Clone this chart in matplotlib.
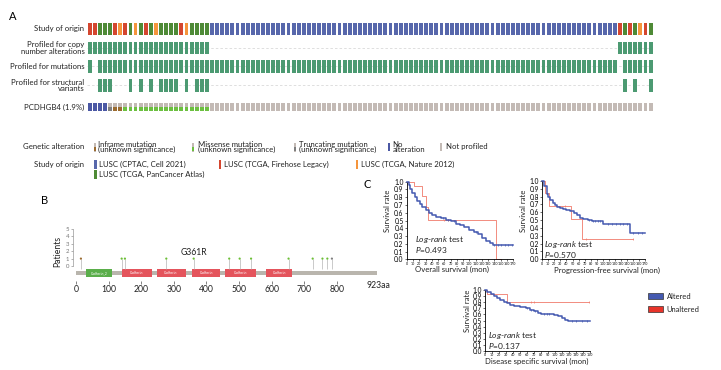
import numpy as np
import matplotlib
matplotlib.use("Agg")
import matplotlib.pyplot as plt
from matplotlib.patches import Rectangle

plt.rcParams['font.family'] = ['Lato', 'DejaVu Sans']
plt.rcParams['mathtext.fontset'] = 'custom'
plt.rcParams['mathtext.rm'] = 'Lato'
plt.rcParams['mathtext.it'] = 'Lato:italic'

W, H = 721, 370

# ---------------- data ----------------
# Panel A: oncoprint, one entry per sample column
study_origin = list("RRGGGRORGOGRGOGGGGROGGGG" + "B" * 80 + "RGRGORG")
profiled_cna = [1] * 24 + [0] * 80 + [1] * 7
profiled_mut = [1, 0] + [1] * 102 + [0] + [1] * 6
profiled_sv_cols = [2, 3, 4, 8, 10, 12, 14, 15, 16, 17, 19, 21, 22, 23, 105, 107, 110]
pcdhgb4_status = list("NNNN" + "T" + "II" + "M" * 17 + "P" * 87)
row_labels = ["Study of origin", "Profiled for copy\nnumber alterations",
              "Profiled for mutations", "Profiled for structural\nvariants",
              "PCDHGB4 (1.9%)"]
alt_legend = ["Inframe mutation\n(unknown significance)",
              "Missense mutation\n(unknown significance)",
              "Truncating mutation\n(unknown significance)",
              "No\nalteration", "Not profiled"]
study_legend = ["LUSC (CPTAC, Cell 2021)", "LUSC (TCGA, Firehose Legacy)",
                "LUSC (TCGA, Nature 2012)", "LUSC (TCGA, PanCancer Atlas)"]

# Panel B: lollipop
protein_length = 923
domain_start = [31, 140, 247, 356, 458, 582]
domain_end = [110, 233, 336, 442, 552, 664]
domain_name = ["Cadherin_2", "Cadherin", "Cadherin", "Cadherin", "Cadherin", "Cadherin"]
mut_pos = [15, 140, 150, 277, 361, 470, 502, 537, 652, 726, 756, 771, 785]
mut_count = [1] * 13
mut_type = ["I"] + ["M"] * 11 + ["T"]
hotspot_label = "G361R"
hotspot_pos = 361
aa_ticks = [0, 100, 200, 300, 400, 500, 600, 700, 800]

# Panel C: Kaplan-Meier step curves
os_alt_t = [0, 3, 6, 9, 13, 17, 21, 25, 30, 35, 40, 47, 55, 63, 70, 78, 85, 92, 100, 107, 113, 120, 127, 133, 138, 170]
os_alt_s = [1.0, 0.96, 0.91, 0.86, 0.80, 0.75, 0.71, 0.67, 0.63, 0.60, 0.57, 0.55, 0.53, 0.51, 0.49, 0.46, 0.44, 0.41, 0.38, 0.35, 0.32, 0.28, 0.24, 0.21, 0.18, 0.18]
os_alt_cens = [58, 66, 75, 110, 140, 145, 150, 156, 162, 168]
os_un_t = [0, 12, 25, 30, 34, 143, 150]
os_un_s = [1.0, 0.95, 0.81, 0.68, 0.51, 0.0, 0.0]
os_un_cens = [60, 66]
os_p = "0.493"

pfs_alt_t = [0, 3, 7, 10, 13, 17, 21, 25, 29, 35, 40, 46, 52, 57, 62, 68, 75, 82, 101, 145, 170]
pfs_alt_s = [1.0, 0.93, 0.84, 0.79, 0.76, 0.72, 0.69, 0.67, 0.65, 0.64, 0.63, 0.62, 0.59, 0.57, 0.53, 0.51, 0.50, 0.49, 0.45, 0.33, 0.33]
pfs_alt_cens = [78, 84, 88, 92, 96, 108, 115, 122, 128, 134, 140, 150, 158, 165]
pfs_un_t = [0, 4, 11, 48, 65, 150]
pfs_un_s = [1.0, 0.85, 0.68, 0.51, 0.255, 0.255]
pfs_un_cens = [38, 72, 150]
pfs_p = "0.570"

dss_alt_t = [0, 3, 8, 13, 17, 22, 27, 31, 36, 42, 50, 58, 64, 70, 76, 80, 98, 104, 110, 114, 118, 150]
dss_alt_s = [1.0, 0.97, 0.93, 0.90, 0.87, 0.84, 0.81, 0.79, 0.76, 0.74, 0.72, 0.70, 0.68, 0.66, 0.63, 0.61, 0.59, 0.57, 0.54, 0.51, 0.50, 0.50]
dss_alt_cens = [60, 66, 72, 84, 88, 92, 124, 130, 138, 146]
dss_un_t = [0, 3, 31, 148]
dss_un_s = [1.0, 0.93, 0.81, 0.81]
dss_un_cens = [66, 70, 148]
dss_p = "0.137"

# ---------------- styles ----------------
study_colors = {"R": "#d4462f", "O": "#f5953c", "G": "#4e8a36", "B": "#5767ab"}
teal = "#4c9a72"
gray_np = "#c3bab5"
alt_colors = {"I": "#9b6b30", "M": "#6cc040", "T": "#7f7f7f", "N": "#4b58a4"}
blue_km = "#4459b0"
red_km = "#f07a6a"

fig = plt.figure(figsize=(W / 100, H / 100), dpi=100)


def ax_px(l, t, r, b):
    a = fig.add_axes([l / W, 1 - b / H, (r - l) / W, (b - t) / H])
    a.set_facecolor('none')
    return a


bg = ax_px(0, 0, W, H)
bg.set_xlim(0, W)
bg.set_ylim(H, 0)
bg.axis('off')

# panel letters
bg.text(13, 17, "A", fontsize=8, ha='center', va='center')
bg.text(45, 201, "B", fontsize=8, ha='center', va='center')
bg.text(367, 185, "C", fontsize=8, ha='center', va='center')

# ---------------- Panel A ----------------
pitch = 5.1
ax = ax_px(87.7 + 0.375 * pitch - 0.5 * pitch, 18,
           87.7 + 0.375 * pitch - 0.5 * pitch + 111 * pitch, 118)
ax.set_xlim(-0.5, 110.5)
ax.set_ylim(118, 18)
ax.axis('off')
cols = np.arange(len(study_origin))
bw = 0.75
row_top = [22.5, 41.5, 60, 79, 103]
row_h = [12.5, 12.5, 12.5, 12.5, 8.3]

ax.bar(cols, row_h[0], width=bw, bottom=row_top[0],
       color=[study_colors[c] for c in study_origin])

sv = np.zeros(len(cols), dtype=int)
sv[profiled_sv_cols] = 1
for r, prof in zip([1, 2, 3], [np.array(profiled_cna), np.array(profiled_mut), sv]):
    yc = row_top[r] + row_h[r] / 2
    ax.plot([-0.5, 110.5], [yc, yc], color='#d9d9d9', lw=0.6, ls=(0, (3, 2.5)), zorder=1)
    m = prof == 1
    ax.bar(cols[m], row_h[r], width=bw, bottom=row_top[r], color=teal, zorder=2)

st = np.array(pcdhgb4_status)
ax.bar(cols, row_h[4], width=bw, bottom=row_top[4],
       color=[alt_colors["N"] if s == "N" else gray_np for s in st])
for k in ["I", "M", "T"]:
    m = st == k
    ax.bar(cols[m], 3.6, width=bw, bottom=row_top[4] + 4.4, color=alt_colors[k])

label_y = [29, 48, 66.5, 85.5, 107.3]
for lab, y in zip(row_labels, label_y):
    bg.text(84.5, y, lab, fontsize=5.6, ha='right', va='center', linespacing=0.85, color='#222222')

# legend
bg.text(84.5, 146.8, "Genetic alteration", fontsize=5.6, ha='right', va='center', color='#222222')
bg.text(84.5, 164, "Study of origin", fontsize=5.6, ha='right', va='center', color='#222222')
mk_x = [95.3, 193.3, 295, 389, 441]
tx_x = [97.8, 198, 299.3, 392.3, 446]
mk_kind = ["I", "M", "T", "N", "P"]
mk_ls = [0.72, 0.72, 0.72, 0.62, 1.0]
for mx, tx, kind, lab, ls in zip(mk_x, tx_x, mk_kind, alt_legend, mk_ls):
    if kind in ("I", "M", "T"):
        bg.add_patch(Rectangle((mx - 1, 142.5), 2, 9, color=gray_np, lw=0))
        bg.add_patch(Rectangle((mx - 1, 146.5), 2, 4, color=alt_colors[kind], lw=0))
    elif kind == "N":
        bg.add_patch(Rectangle((mx - 1, 142.5), 2.2, 8, color=alt_colors["N"], lw=0))
    else:
        bg.add_patch(Rectangle((mx - 1, 142.5), 2.2, 8, color=gray_np, lw=0))
    bg.text(tx, 147, lab, fontsize=5.6, ha='left', va='center', linespacing=ls, color='#222222')

s_mx = [95.3, 220, 357, 95.3]
s_tx = [99.3, 224.5, 361.3, 99.3]
s_y = [164, 164, 164, 174.5]
for code, mx, tx, y, lab in zip(["B", "R", "O", "G"], s_mx, s_tx, s_y, study_legend):
    bg.add_patch(Rectangle((mx - 1, y - 4.5), 2.2, 9, color=study_colors[code], lw=0))
    bg.text(tx, y, lab, fontsize=5.6, ha='left', va='center', color='#222222')

# ---------------- Panel B ----------------
axl = ax_px(72.1, 225.3, 380.8, 280.8)
axl.set_xlim(-12, 935)
axl.set_ylim(-2, 5.5)
for sp in ["top", "right", "bottom"]:
    axl.spines[sp].set_visible(False)
axl.spines['left'].set_position(('data', -10))
axl.spines['left'].set_bounds(0, 5)
axl.spines['left'].set_color('#999999')
axl.spines['left'].set_linewidth(0.5)
axl.set_yticks(range(6))
axl.tick_params(axis='y', labelsize=4.3, length=1.5, width=0.4, pad=0.8, colors='#777777')
axl.set_xticks(aa_ticks)
axl.tick_params(axis='x', labelsize=6.2, length=2, width=0.4, pad=1, colors='#222222')
axl.add_patch(Rectangle((0, -1.22), protein_length, 0.54, color='#b9b5ad', lw=0))
for s, e, n in zip(domain_start, domain_end, domain_name):
    c = '#5aae4a' if n == "Cadherin_2" else '#e4545c'
    axl.add_patch(Rectangle((s, -1.5), e - s, 1.1, color=c, lw=0))
    axl.text((s + e) / 2, -0.95, n, fontsize=2.4, color='white', ha='center', va='center')
axl.vlines(mut_pos, -0.4, mut_count, color='#b5b5b5', lw=0.5)
axl.scatter(mut_pos, mut_count, s=2.5, c=[alt_colors[t] if t != "M" else '#6bbf35' for t in mut_type],
            zorder=3, linewidths=0)
axl.text(hotspot_pos, 1.85, hotspot_label, fontsize=6.2, ha='center', va='center', color='#222222')
axl.text(protein_length + 6, -2.0, "923aa", fontsize=6.2, ha='center', va='top', color='#222222')
bg.text(57.5, 251, "Patients", fontsize=6.2, rotation=90, ha='center', va='center', color='#222222')


# ---------------- Panel C ----------------
def step_at(t, s, x):
    idx = np.searchsorted(np.array(t), np.array(x), side='right') - 1
    return np.array(s)[idx]


def km_axes(box, xmax, xstep, alt, un, p, txt_xy):
    a = ax_px(*box)
    a.set_xlim(0, xmax)
    a.set_ylim(0, 1)
    for sp in ["top", "right"]:
        a.spines[sp].set_visible(False)
    for sp in ["left", "bottom"]:
        a.spines[sp].set_linewidth(0.6)
    a.set_yticks(np.arange(0, 1.01, 0.1))
    a.set_yticklabels([f"{v:.1f}" for v in np.arange(0, 1.01, 0.1)])
    a.set_xticks(np.arange(0, xmax + 1, xstep))
    a.tick_params(axis='y', labelsize=4.8, length=1.5, width=0.4, pad=0.8)
    a.tick_params(axis='x', labelsize=2.6, length=1.2, width=0.4, pad=0.6)
    (at, as_, ac), (ut, us, uc) = alt, un
    a.step(ut, us, where='post', color=red_km, lw=0.6, zorder=2, clip_on=False)
    a.plot(uc, step_at(ut, us, uc), ls='none', marker='|', ms=2, mew=0.5, color=red_km)
    a.step(at, as_, where='post', color=blue_km, lw=1.1, zorder=3, clip_on=False)
    a.plot(ac, step_at(at, as_, ac), ls='none', marker='|', ms=2, mew=0.5, color=blue_km, zorder=3)
    x, y = txt_xy
    a.text(x, y + 3.6, r"$\mathit{Log}$-$\mathit{rank}$ test" + "\n" + r"$\mathit{P}$=" + p,
           fontsize=6, ha='left', va='center', linespacing=0.95,
           color='#222222', transform=bg.transData, zorder=5)
    return a


km_axes((406.7, 181.7, 513.3, 259.3), 170, 10,
        (os_alt_t, os_alt_s, os_alt_cens), (os_un_t, os_un_s, os_un_cens), os_p, (415, 241))
km_axes((542.3, 181.0, 645, 259.3), 170, 10,
        (pfs_alt_t, pfs_alt_s, pfs_alt_cens), (pfs_un_t, pfs_un_s, pfs_un_cens), pfs_p, (543.5, 246))
km_axes((485, 290, 590, 351), 150, 10,
        (dss_alt_t, dss_alt_s, dss_alt_cens), (dss_un_t, dss_un_s, dss_un_cens), dss_p, (488, 337))

for x, y in [(387, 211), (523.7, 210.5), (467, 311)]:
    bg.text(x, y, "Survival rate", fontsize=5.6, rotation=90, ha='center', va='center', color='#222222')
bg.text(452, 269.5, "Overall survival (mon)", fontsize=5.6, ha='center', va='center', color='#222222')
bg.text(607, 270, "Progression-free survival (mon)", fontsize=5.6, ha='center', va='center', color='#222222')
bg.text(537, 361.5, "Disease specific survival (mon)", fontsize=5.6, ha='center', va='center', color='#222222')

# KM legend
bg.add_patch(Rectangle((648.3, 293.3), 15, 5.7, facecolor=blue_km, edgecolor='#333333', lw=0.5))
bg.text(666.7, 296.2, "Altered", fontsize=5.4, ha='left', va='center', color='#222222')
bg.add_patch(Rectangle((648.3, 306), 15, 5.7, facecolor='#e8342a', edgecolor='#333333', lw=0.5))
bg.text(666.7, 309, "Unaltered", fontsize=5.4, ha='left', va='center', color='#222222')

fig.savefig("out.png", dpi=100)
